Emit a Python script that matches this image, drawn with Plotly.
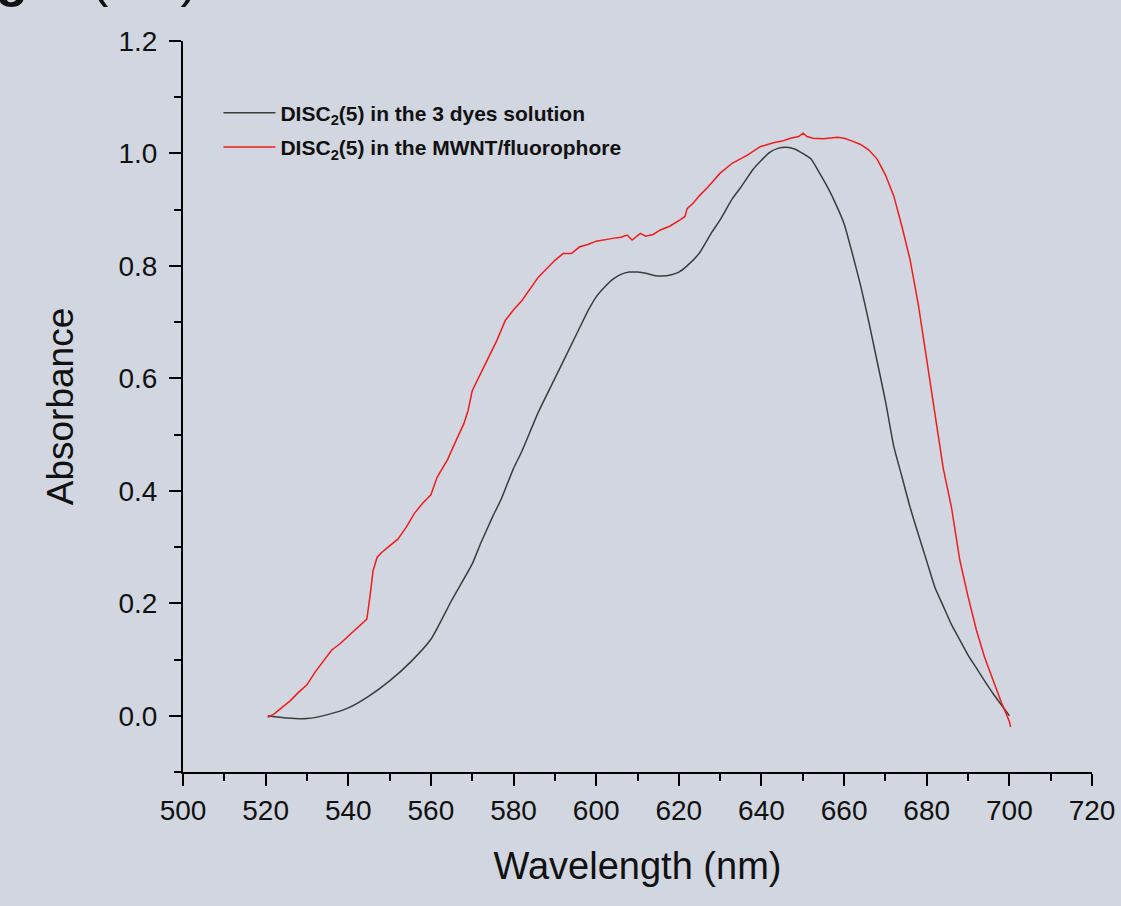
import plotly.graph_objects as go

# Wavelength (nm) and absorbance for DISC2(5) in the 3 dyes solution (black)
wl_black = [520.5, 525, 530, 535, 540, 545, 550, 555, 560, 565, 570, 572, 575, 577, 580, 582,
            586, 590, 593, 596, 598, 600, 602, 604, 606, 608, 610, 612, 614, 616, 618, 620,
            622, 625, 628, 630, 633, 635, 638, 640, 642, 644, 646, 648, 650, 652, 654, 656,
            658, 660, 662, 664, 666, 668, 670, 672, 674, 676, 678, 680, 682, 684, 686, 688,
            690, 692, 694, 696, 698, 700]
abs_black = [0.0, -0.004, -0.005, 0.002, 0.014, 0.035, 0.062, 0.095, 0.136, 0.205, 0.27, 0.306,
             0.355, 0.385, 0.44, 0.47, 0.54, 0.60, 0.645, 0.69, 0.72, 0.745, 0.762, 0.776, 0.785,
             0.789, 0.789, 0.787, 0.783, 0.782, 0.784, 0.789, 0.80, 0.823, 0.86, 0.882, 0.92,
             0.94, 0.972, 0.988, 1.002, 1.009, 1.011, 1.008, 1.0, 0.99, 0.966, 0.94, 0.91, 0.875,
             0.822, 0.765, 0.70, 0.63, 0.56, 0.48, 0.425, 0.37, 0.322, 0.275, 0.228, 0.195,
             0.162, 0.135, 0.108, 0.085, 0.062, 0.04, 0.02, 0.0]

# Wavelength (nm) and absorbance for DISC2(5) in the MWNT/fluorophore (red)
wl_red = [520.5, 522, 524, 526, 528, 530, 532, 534, 536, 538, 540, 542, 543, 544.5, 545.3, 546,
          547, 548, 550, 552, 554, 556, 558, 560, 561.5, 564, 566, 568, 569, 570, 572, 574, 576,
          578, 580, 582, 584, 586, 588, 590, 592, 594, 596, 598, 600, 602, 604, 606, 607.5,
          608.7, 610.7, 612, 613.8, 615.5, 617.9, 620.3, 621.5, 622, 623.5, 625, 627, 630, 633,
          636.6, 639.7, 642.9, 645, 647, 649, 650.1, 651, 652.5, 655, 658.4, 660, 662, 664, 666,
          668, 670, 672, 674, 676, 678, 680, 682, 684, 686, 688, 690, 692, 694, 696, 698, 700,
          700.3]
abs_red = [-0.003, 0.003, 0.015, 0.027, 0.042, 0.055, 0.078, 0.098, 0.117, 0.128, 0.142, 0.155,
           0.163, 0.172, 0.215, 0.258, 0.282, 0.29, 0.302, 0.314, 0.335, 0.36, 0.378, 0.393,
           0.424, 0.455, 0.488, 0.52, 0.543, 0.578, 0.608, 0.637, 0.668, 0.703, 0.722, 0.738,
           0.76, 0.78, 0.795, 0.81, 0.822, 0.822, 0.834, 0.838, 0.844, 0.847, 0.849, 0.851,
           0.855, 0.846, 0.858, 0.853, 0.856, 0.864, 0.871, 0.882, 0.888, 0.902, 0.912, 0.925,
           0.94, 0.965, 0.983, 0.997, 1.012, 1.019, 1.022, 1.027, 1.030, 1.036, 1.03, 1.027,
           1.026, 1.029, 1.027, 1.022, 1.016, 1.006, 0.99, 0.962, 0.925, 0.87, 0.81, 0.73,
           0.635, 0.535, 0.44, 0.37, 0.277, 0.212, 0.153, 0.104, 0.063, 0.025, -0.01, -0.02]

name_black = "DISC<sub>2</sub>(5) in the 3 dyes solution"
name_red = "DISC<sub>2</sub>(5) in the MWNT/fluorophore"

x_ticks = [500, 520, 540, 560, 580, 600, 620, 640, 660, 680, 700, 720]
y_ticks = [0.0, 0.2, 0.4, 0.6, 0.8, 1.0, 1.2]

# Cut-off fragments of a heading above the chart (only descenders visible)
frag_left = "g"
frag_right = "(nm)"

BG = "#d2d6e0"
FONT = "Arial, Liberation Sans, sans-serif"

fig = go.Figure()
fig.add_trace(go.Scatter(x=wl_black, y=abs_black, mode="lines", name=name_black, legendgroup="a",
                         line=dict(color="#3c3c3c", width=1.5, shape="spline", smoothing=0.5)))
fig.add_trace(go.Scatter(x=wl_red, y=abs_red, mode="lines", name=name_red, legendgroup="b",
                         line=dict(color="#f01c1c", width=1.5)))

axis_common = dict(showline=True, linecolor="black", linewidth=2, ticks="outside",
                   ticklen=12, tickwidth=2, tickcolor="black", showgrid=False, zeroline=False,
                   tickfont=dict(family=FONT, size=28, color="#111"), mirror=False)

fig.update_xaxes(range=[500, 720], tickvals=x_ticks, **axis_common, automargin=False,
                 minor=dict(ticks="outside", dtick=10, ticklen=7, tickwidth=2, tickcolor="black"),
                 title=dict(text="Wavelength (nm)", font=dict(family=FONT, size=38, color="#111"),
                            standoff=28))
fig.update_yaxes(range=[-0.1, 1.2], tickvals=y_ticks, tickformat=".1f", **axis_common,
                 ticklabelstandoff=6, automargin=False,
                 minor=dict(ticks="outside", dtick=0.1, tick0=0, ticklen=7, tickwidth=2, tickcolor="black"),
                 title=dict(text="Absorbance", font=dict(family=FONT, size=37, color="#111"),
                            standoff=34))

fig.add_annotation(text=frag_left, xref="paper", yref="paper", x=-0.188, y=1.0438,
                   xanchor="center", yanchor="bottom", showarrow=False,
                   font=dict(family=FONT, size=52, color="#111", weight="bold"))
fig.add_annotation(text=frag_right, xref="paper", yref="paper", x=0.0187, y=1.0438,
                   xanchor="right", yanchor="bottom", showarrow=False,
                   font=dict(family=FONT, size=52, color="#111"))

fig.update_layout(
    width=1121, height=906,
    margin=dict(l=183, r=29, t=41, b=134),
    paper_bgcolor=BG, plot_bgcolor=BG,
    showlegend=True,
    legend=dict(x=0.039, y=0.9295, xanchor="left", yanchor="top", bgcolor="rgba(0,0,0,0)",
                font=dict(family=FONT, size=21, color="#111", weight="bold"),
                itemwidth=52, tracegroupgap=4, traceorder="grouped"),
)

fig.write_html("out.html", config={"displayModeBar": False},
               post_script="document.body.style.margin='0';")
